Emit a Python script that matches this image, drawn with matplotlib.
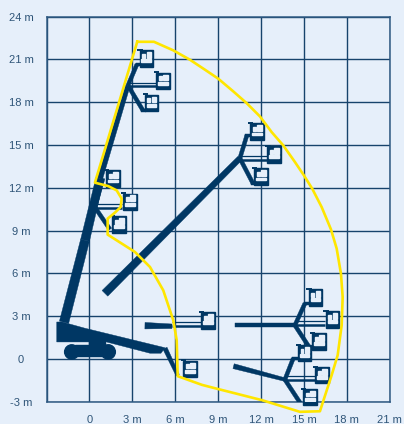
import numpy as np
import matplotlib
matplotlib.use('Agg')
import matplotlib.pyplot as plt
from matplotlib.patches import Rectangle, Polygon, Circle

# Farben
bg = '#E6EFFA'
navy = '#003764'
grid_col = '#17436C'
yellow = '#FFE600'
text_col = '#2F5578'

x_ticks = [-3, 0, 3, 6, 9, 12, 15, 18, 21]
x_labels = ['', '0', '3 m', '6 m', '9 m', '12 m', '15 m', '18 m', '21 m']
y_ticks = [-3, 0, 3, 6, 9, 12, 15, 18, 21, 24]
y_labels = ['-3 m', '0', '3 m', '6 m', '9 m', '12 m', '15 m', '18 m', '21 m', '24 m']

# Arbeitsbereich (gelb), in Metern
env_x = [3.34, 4.51, 5.86, 7.03, 8.08, 9.01, 10.06, 10.99, 11.92, 12.74, 13.55, 14.37, 15.0, 15.58, 16.24, 16.89,
         17.29, 17.59, 17.71, 17.64, 17.36, 16.94, 16.12, 14.72, 12.06, 9.03, 7.87, 6.17, 6.10, 5.86, 5.16, 4.23,
         3.18, 1.27, 1.27, 1.78, 2.18, 2.25, 1.90, 1.31, 0.38, 3.34]
env_y = [22.24, 22.24, 21.64, 20.98, 20.28, 19.65, 18.76, 17.94, 17.01, 15.91, 14.98, 13.81, 12.87, 11.94, 10.65, 9.09,
         7.74, 5.98, 4.34, 2.36, 0.26, -1.14, -3.67, -3.71, -2.89, -2.12, -1.82, -1.21, 1.31, 2.71, 4.81, 6.45,
         7.50, 8.72, 9.84, 10.26, 10.65, 11.24, 11.82, 12.12, 12.36, 22.24]

# Ausleger: (x1, y1, x2, y2, Breite1, Breite2 in px)
booms = [
    (-1.78, 2.57, -0.31, 8.32, 9.5, 9),
    (-0.31, 8.32, 0.73, 12.66, 9, 8),
    (0.73, 12.66, 2.69, 19.18, 5.5, 4.5),
    (2.69, 19.18, 3.32, 20.66, 4, 4),
    (3.25, 20.66, 3.70, 20.66, 3, 3),
    (2.69, 19.18, 3.74, 17.43, 4, 4),
    (3.6, 17.43, 3.95, 17.43, 3, 3),
    (0.38, 10.63, 1.43, 9.09, 4, 4),
    (0.38, 10.63, 0.94, 12.66, 4, 4),
    (1.08, 4.60, 10.52, 14.07, 8, 5.5),
    (10.52, 14.07, 11.01, 15.68, 4, 4),
    (10.9, 15.68, 11.3, 15.68, 3, 3),
    (10.52, 14.07, 11.43, 12.32, 4, 4),
    (11.3, 12.32, 11.6, 12.32, 3, 3),
    (3.88, 2.33, 5.77, 2.29, 6.5, 4.5),
    (10.17, 2.36, 14.37, 2.36, 4, 4),
    (14.37, 2.36, 15.07, 3.89, 4, 4),
    (15.0, 3.89, 15.42, 3.89, 3, 3),
    (14.37, 2.36, 15.42, 0.75, 4, 4),
    (15.3, 0.75, 15.77, 0.75, 3, 3),
    (10.08, -0.51, 13.67, -1.45, 5, 3.5),
    (13.67, -1.45, 14.25, 0.03, 4, 4),
    (14.2, 0.03, 14.6, 0.03, 3, 3),
    (13.67, -1.45, 14.84, -3.24, 4, 4),
    (14.7, -3.24, 15.1, -3.24, 3, 3),
    (5.28, 0.75, 6.17, -1.14, 4.5, 3.5),
]

# waagerechte Doppelstangen zum Korb: (x1, x2, y)
bars = [
    (2.69, 4.75, 19.11),
    (0.38, 2.3, 10.56),
    (10.52, 12.4, 13.93),
    (5.77, 8.0, 2.3),
    (14.37, 16.5, 2.36),
    (13.67, 16.0, -1.45),
]

# Korb-Mittelpunkte
basket_x = [3.97, 5.14, 4.34, 1.64, 2.83, 2.06, 11.71, 12.92, 11.99, 15.80, 16.99, 16.05, 15.05, 16.26, 15.42, 8.29, 7.03]
basket_y = [21.08, 19.5, 17.95, 12.66, 11.02, 9.44, 15.96, 14.35, 12.80, 4.32, 2.78, 1.24, 0.40, -1.14, -2.68, 2.71, -0.71]

# Fahrgestell
body_x = [-2.29, -1.9, -0.31, 5.14, 5.28, 5.0, 4.23, 0.73, 0.50, -2.29]
body_y = [2.59, 2.59, 2.15, 0.82, 0.78, 0.40, 0.40, 1.31, 1.19, 1.19]
wheel_x = [-1.24, 1.31]
wheel_y = [0.49, 0.49]
wheel_r = 0.5

fig = plt.figure(figsize=(4.04, 4.24), dpi=100, facecolor=bg)
ax = fig.add_axes([46.6 / 404, 1 - 401.7 / 424, 343.1 / 404, 385.0 / 424], facecolor=bg)
ax.set_xlim(-3, 21)
ax.set_ylim(-3, 24)

ax.set_xticks(x_ticks, x_labels)
ax.set_yticks(y_ticks, y_labels)
ax.grid(True, color=grid_col, linewidth=1.0)
ax.set_axisbelow(True)
for s in ax.spines.values():
    s.set_color('#2F5A82')
    s.set_linewidth(1.1)
ax.tick_params(length=0, labelsize=8, labelcolor=text_col)
ax.tick_params(axis='x', pad=9.5)
ax.tick_params(axis='y', pad=18.4)
for t in ax.get_xticklabels() + ax.get_yticklabels():
    t.set_family('Liberation Sans')
for t in ax.get_yticklabels():
    t.set_ha('center')

px = 1 / 14.3  # Meter pro Pixel


def ausleger(x1, y1, x2, y2, w1, w2):
    # Balken mit schmaler werdender Breite
    d = np.array([x2 - x1, y2 - y1])
    n = np.array([-d[1], d[0]]) / np.hypot(d[0], d[1])
    a = np.array([x1, y1])
    b = np.array([x2, y2])
    pts = [a + n * w1 * px / 2, b + n * w2 * px / 2, b - n * w2 * px / 2, a - n * w1 * px / 2]
    ax.add_patch(Polygon(pts, closed=True, facecolor=navy, edgecolor=navy, linewidth=0.3, zorder=3))


for b in booms:
    ausleger(*b)

for x1, x2, y in bars:
    ax.plot([x1, x2], [y, y], color=navy, linewidth=1.8, zorder=3, solid_capstyle='butt')
    ax.plot([x1, x2], [y + 0.27, y + 0.27], color=navy, linewidth=0.9, zorder=3, solid_capstyle='butt')

# Fahrgestell und Raeder
ax.add_patch(Polygon(list(zip(body_x, body_y)), closed=True, facecolor=navy, edgecolor=navy, linewidth=0.3, zorder=3))
ax.add_patch(Rectangle((wheel_x[0], wheel_y[0] - 0.3), wheel_x[1] - wheel_x[0], 0.6, color=navy, zorder=3))
ax.add_patch(Rectangle((-1.0, 0.85), 2.4, 0.1, color=navy, zorder=3))
ax.add_patch(Rectangle((0.0, 0.85), 1.1, 0.45, color=navy, zorder=3))
for wx, wy in zip(wheel_x, wheel_y):
    ax.add_patch(Circle((wx, wy), wheel_r, color=navy, zorder=3))


def korb(cx, cy):
    w, h = 0.94, 1.16
    l, b = cx - w / 2, cy - h / 2
    top = b + h
    ax.add_patch(Rectangle((l, b), w, h, color=navy, zorder=4, clip_on=False))
    # Fenster oben
    ax.add_patch(Rectangle((l + 0.2 * w, top - 0.46 * h), 0.2 * w, 0.24 * h, color=bg, zorder=5))
    ax.add_patch(Rectangle((l + 0.52 * w, top - 0.46 * h), 0.34 * w, 0.34 * h, color=bg, zorder=5))
    # Streifen darunter
    ax.add_patch(Rectangle((l + 0.14 * w, top - 0.74 * h), 0.72 * w, 0.17 * h, color=bg, zorder=5))
    # Haken links oben
    ax.plot([l - 0.16, l + 0.22], [top + 0.02, top + 0.02], color=navy, linewidth=1.4, zorder=5, solid_capstyle='butt')


for bx, by in zip(basket_x, basket_y):
    korb(bx, by)

# Arbeitsbereich obendrauf
ax.plot(env_x, env_y, color=yellow, linewidth=1.9, solid_joinstyle='round', zorder=6, clip_on=False)

plt.savefig('out.png', dpi=100, facecolor=bg)
